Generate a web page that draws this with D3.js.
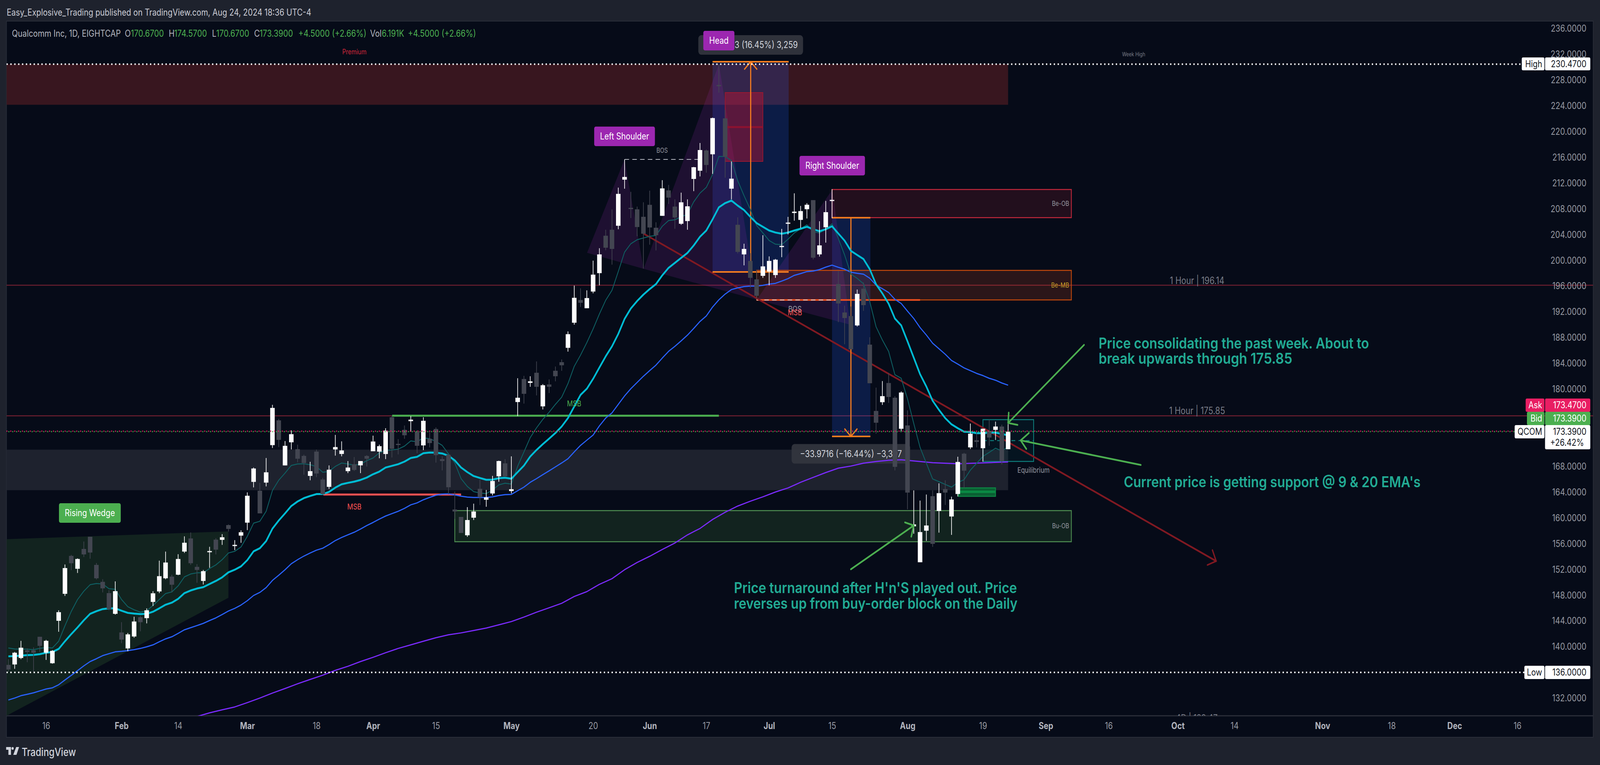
<!DOCTYPE html>
<html><head><meta charset="utf-8">
<script src="https://cdnjs.cloudflare.com/ajax/libs/d3/7.9.0/d3.min.js"></script>
<style>html,body{margin:0;padding:0;background:#1e222d;overflow:hidden;width:100%;height:100%}svg{display:block;width:100vw;height:100vh}text{font-family:Inter,"Noto Sans",sans-serif}</style>
</head><body><div id="chart"></div>
<script>
// ---- candles, bar 1..160 ----
const open=[137.17,137.24,138.24,139.43,139.43,141.54,139.06,137.43,144.02,148.21,154.10,152.10,155.18,157.07,152.70,150.07,148.32,145.10,142.21,139.73,141.58,144.58,144.43,146.95,148.58,150.62,150.88,151.18,154.77,156.81,152.40,150.21,154.77,156.62,156.59,158.88,155.74,157.25,159.26,165.59,164.22,165.48,171.30,175.15,168.15,171.74,170.67,169.63,166.52,170.30,165.96,164.82,170.63,169.93,167.26,168.34,168.16,169.62,170.35,170.29,169.92,175.63,171.50,173.68,175.02,173.38,171.26,172.29,173.81,169.13,169.80,161.30,160.15,157.30,160.03,164.52,162.82,163.79,166.46,168.47,164.16,177.99,181.57,180.97,182.54,177.32,180.72,182.85,184.18,186.41,190.31,193.84,192.56,195.15,198.01,203.82,204.75,205.37,212.53,208.15,207.92,206.76,208.62,205.06,206.91,210.86,208.35,205.68,206.10,212.64,213.92,217.06,216.47,227.23,222.05,211.13,205.52,200.92,199.91,197.05,197.59,198.25,197.71,202.20,205.69,207.35,206.28,207.94,209.35,200.92,205.13,209.35,196.32,191.90,191.34,189.89,195.60,186.91,176.61,177.97,180.95,178.66,173.84,174.36,158.69,153.11,158.01,163.37,161.07,164.48,160.22,163.71,169.97,170.95,172.06,170.82,173.46,173.67,174.19,170.67];
const high=[138.06,139.17,140.91,139.73,139.91,141.54,141.06,139.47,145.65,152.77,154.25,153.70,156.33,157.07,152.99,150.47,148.77,150.14,143.80,142.13,144.65,144.77,145.95,148.62,153.36,154.77,151.18,154.36,157.14,157.74,152.81,151.92,155.51,156.85,157.48,158.99,156.55,158.07,163.96,167.82,165.44,169.30,177.56,175.38,171.93,173.60,171.37,169.82,168.71,170.60,166.22,168.15,172.89,171.89,168.82,169.45,168.83,169.74,172.77,171.38,173.93,175.93,172.23,174.35,175.81,173.62,175.63,173.44,174.05,169.56,169.80,164.10,160.15,161.67,162.21,165.92,164.34,166.52,168.89,169.13,169.56,181.69,182.06,182.00,184.30,180.78,181.51,183.51,184.61,188.96,196.08,195.65,195.34,199.95,201.88,204.75,207.92,211.29,215.66,210.63,208.35,209.01,210.82,205.91,212.45,211.71,209.47,210.51,209.47,214.50,218.22,217.21,222.16,230.47,223.36,215.35,206.68,202.58,201.11,198.44,203.90,200.61,200.22,204.88,206.75,210.41,208.45,208.88,209.35,206.07,209.22,211.05,198.37,192.96,192.83,195.47,196.58,188.06,180.23,181.25,182.53,178.91,179.64,176.70,164.27,162.69,163.63,164.27,165.37,165.84,163.29,169.50,170.10,174.65,173.38,173.85,175.29,174.95,174.48,174.57];
const low=[136.09,136.57,138.06,137.58,136.09,139.17,137.95,137.35,142.32,147.88,151.88,151.44,153.92,153.66,150.44,148.43,145.65,144.99,140.54,139.28,141.39,142.39,143.62,146.32,148.32,150.47,148.43,151.10,154.55,152.70,149.92,149.66,152.25,154.33,155.81,157.88,154.99,156.14,158.11,164.74,160.70,164.89,170.86,171.00,168.15,170.63,168.63,166.70,165.85,166.33,163.59,164.48,169.67,169.56,166.96,167.30,166.95,167.98,170.35,169.25,169.13,169.38,169.86,172.29,173.38,170.04,170.53,170.95,168.59,167.37,163.67,159.85,157.66,157.06,159.67,162.00,161.73,163.49,165.61,166.34,163.79,175.81,177.75,180.36,179.02,176.84,179.39,181.21,182.85,185.82,190.00,192.75,192.56,194.88,196.12,201.57,199.33,204.83,211.13,206.57,203.74,198.71,202.43,201.54,206.91,208.77,204.90,205.52,204.75,210.75,213.03,213.61,213.42,226.03,212.84,209.47,201.07,199.22,195.73,193.99,197.28,196.12,197.28,200.49,204.03,206.16,205.01,206.50,200.15,200.58,202.75,206.54,190.40,186.96,186.19,189.72,192.15,180.91,173.08,177.55,177.85,167.37,173.42,161.33,157.54,153.11,156.43,155.50,157.71,162.01,157.37,163.33,164.65,170.69,170.95,168.74,171.20,172.10,168.31,170.67];
const close=[136.46,139.06,139.84,139.17,139.06,140.13,140.91,139.35,145.36,152.21,152.96,153.62,154.33,154.62,150.62,149.06,145.84,148.62,141.10,141.91,143.91,143.80,145.65,148.29,150.95,153.07,149.62,153.62,156.14,152.96,151.92,151.73,154.85,155.07,156.99,158.29,155.81,157.77,163.44,167.67,160.70,167.08,177.08,172.12,171.19,173.00,169.19,168.52,167.26,166.89,163.70,167.48,171.00,170.48,167.82,167.45,168.83,169.19,171.86,171.14,173.56,170.73,171.42,172.83,175.26,171.20,175.08,171.62,169.74,168.83,164.76,160.99,157.66,159.67,160.99,163.21,163.19,165.73,168.83,166.46,164.46,178.66,179.27,181.21,180.36,180.60,180.36,182.00,183.70,188.53,194.18,193.41,194.14,197.78,200.92,201.96,201.77,210.32,212.95,208.08,205.17,204.13,205.10,203.90,211.17,209.74,206.65,209.01,208.39,214.46,217.13,214.81,222.09,227.16,216.09,212.68,201.31,201.77,197.28,194.49,199.06,199.91,200.10,202.24,205.86,207.56,207.65,208.63,200.41,202.32,207.48,209.39,193.30,191.04,186.19,194.79,193.04,180.91,174.78,178.91,178.78,167.93,179.47,163.93,158.99,157.80,158.82,155.97,163.84,163.93,162.86,168.69,167.33,173.08,171.80,173.85,172.48,174.19,168.82,173.39];
// ---- moving averages, one reading per bar ----
const ema9=[139.80,139.65,139.61,139.61,139.54,139.73,139.87,139.80,140.84,143.25,145.47,147.32,148.62,149.62,149.81,149.73,149.00,148.92,147.32,146.21,145.73,145.36,145.58,146.40,147.32,148.25,148.51,149.44,150.84,151.29,151.47,151.47,152.14,152.70,153.51,154.55,154.81,155.48,157.14,159.18,159.48,161.03,164.26,165.85,166.96,168.15,168.37,168.41,168.26,167.96,167.08,167.22,168.00,168.52,168.37,168.19,168.34,168.89,169.30,170.10,170.48,170.56,170.67,171.15,171.96,171.82,172.43,172.31,171.86,171.26,169.94,168.53,166.10,164.88,164.08,163.87,163.77,164.32,165.13,165.39,165.25,168.02,170.25,172.47,173.99,175.30,176.41,177.63,178.74,180.85,183.54,185.28,187.22,189.35,191.67,193.80,195.35,198.25,201.27,202.58,203.20,203.47,203.74,203.86,205.29,206.18,206.30,206.76,207.15,209.08,210.44,211.33,213.34,216.13,216.13,215.47,212.37,210.05,207.92,205.41,204.25,203.08,202.50,202.43,203.28,204.25,204.90,205.52,204.44,204.25,204.83,205.68,203.40,200.83,197.85,197.20,196.36,193.60,189.68,187.64,185.85,182.23,181.68,178.49,174.65,170.95,168.48,166.05,165.63,165.20,164.78,165.50,165.93,167.42,168.48,169.55,170.18,170.82,170.40,171.03];
const ema20=[138.50,138.54,138.61,138.69,138.72,138.84,139.06,139.17,139.65,140.84,141.95,142.99,144.10,145.10,145.51,145.84,145.95,145.95,145.58,145.25,145.14,145.06,145.10,145.43,145.95,146.51,146.84,147.43,148.32,148.73,149.03,149.25,149.73,150.21,150.77,151.55,151.95,152.47,153.44,154.81,155.29,156.40,158.33,159.59,160.70,161.85,162.55,163.07,163.41,163.70,163.70,164.04,164.70,165.22,165.44,165.63,165.89,166.26,166.78,167.19,167.82,168.08,168.34,168.74,169.30,169.48,170.04,170.15,170.14,170.00,169.64,168.93,167.82,167.11,166.50,166.20,165.92,165.94,166.16,166.24,166.08,167.11,168.12,169.54,170.55,171.46,172.31,173.18,174.19,175.50,177.30,179.10,180.06,181.60,183.35,185.09,186.64,188.57,190.90,192.52,193.68,194.68,195.54,196.31,197.67,198.83,199.60,200.37,201.15,202.31,203.67,204.63,206.37,208.23,208.89,209.28,208.50,207.81,206.76,205.79,205.21,204.63,204.32,204.13,204.32,204.63,204.90,205.21,204.83,204.52,204.83,205.29,204.16,203.05,201.47,200.83,200.20,198.62,196.28,194.87,193.26,190.96,189.89,187.42,184.87,182.32,180.40,178.19,176.78,175.50,174.53,173.93,173.38,173.33,173.16,173.16,173.25,173.25,173.04,172.82];
const ema50=[131.72,132.02,132.39,132.61,132.83,133.13,133.43,133.61,134.09,134.83,135.54,136.28,137.02,137.69,138.13,138.61,138.91,139.20,139.28,139.39,139.54,139.73,139.98,140.28,140.76,141.21,141.54,142.06,142.62,142.95,143.28,143.62,144.06,144.47,144.99,145.54,145.95,146.47,147.14,147.95,148.43,149.18,150.29,151.10,151.95,152.88,153.51,154.07,154.55,154.99,155.29,155.85,156.48,156.96,157.37,157.77,158.26,158.81,159.29,159.81,160.29,160.66,161.03,161.48,162.03,162.33,162.81,163.18,163.52,163.70,163.73,163.57,163.37,163.23,163.17,163.17,163.17,163.27,163.47,163.61,163.65,164.22,164.78,165.53,166.10,166.71,167.31,167.92,168.53,169.19,170.25,171.26,172.07,172.87,174.29,175.50,176.31,177.63,178.94,180.06,181.03,182.00,182.88,183.73,184.82,185.86,186.64,187.49,188.38,189.42,190.51,191.36,192.75,193.87,194.76,195.46,195.73,195.92,196.00,196.00,196.12,196.31,196.43,196.78,197.16,197.67,197.94,198.25,198.33,198.56,198.94,199.25,198.92,198.62,198.15,197.98,197.85,197.22,196.15,195.60,195.00,193.94,193.30,192.11,190.96,189.55,188.40,187.13,186.28,185.42,184.45,183.89,183.30,182.87,182.44,182.10,181.68,181.38,180.95,180.61];
const ema200Bars=[31,33,35,37,39,41,43,45,47,49,51,53,55,57,59,61,63,65,67,69,71,73,75,77,79,81,83,85,87,89,91,93,95,97,99,101,103,105,107,109,111,113,115,117,119,121,123,125,127,129,131,133,135,137,139,141,143,148,152,156,160];
const ema200=[129.16,129.72,130.20,130.64,131.31,132.02,132.80,133.50,134.24,134.91,135.57,136.32,136.95,137.69,138.35,139.06,139.73,140.28,140.84,141.39,141.85,142.14,142.51,142.89,143.39,143.90,144.60,145.36,146.04,146.74,147.80,148.55,149.68,150.56,151.95,153.08,154.04,155.09,156.10,157.36,158.36,159.75,160.88,161.84,162.59,163.27,164.02,164.65,165.53,166.29,167.04,167.72,168.05,168.50,168.75,168.95,169.03,168.57,168.40,168.55,168.70];
// ---- axes ----
const priceTicks=[236,232,228,224,220,216,212,208,204,200,196,192,188,184,180,176,172,168,164,160,156,152,148,144,140,136,132];
const timeLabels=["16","Feb","14","Mar","18","Apr","15","May","20","Jun","17","Jul","15","Aug","19","Sep","16","Oct","14","Nov","18","Dec","16"];
const timeBars=[7,19,28,39,50,59,69,81,94,103,112,122,132,144,156,166,176,187,196,210,221,231,241];
const monthNames=["Jan","Feb","Mar","Apr","May","Jun","Jul","Aug","Sep","Oct","Nov","Dec"];
// ---- drawings, in [bar, price] ----
const highPrice=230.47, lowPrice=136, askPrice=173.47, bidPrice=173.39, hourLevels=[196.14,175.85];
const premiumZone=[0,160,230.47,224.16], equilibriumZone=[0,160,170.6,164.3];
const wedge=[[0.7,156.69],[36,157.9],[36,147.6],[0.7,129.27]];
const hnsTriangles=[[[93.04,201.17],[99,215.67],[102.03,198.68]],[[102.03,198.68],[114.01,230.47],[120.03,193.89]],[[120.03,193.89],[132.06,211],[134.89,190]]];
const beOB=[132,170.06,211,206.63], beMB=[120,170.06,198.44,193.85], buOB=[72,170.06,161.13,156.3];
const headBox=[115,121,226.05,215.37,220.7];
const miniBand=[152.1,158,164.66,163.35,164.05];
const eqBox=[156,164.06,175.26,168.77,172];
const measureUp=[113,125.1,230.84,198.2,119.06], measureDown=[132,138.1,206.62,172.65,135];
const msbGreen=[62.04,114,175.87], msbRed=[51.1,73,163.63], msbOrange=[120,146,193.85], bosDash=[99,110.7,215.67], bosDash2=[120,132.5,193.85];
const trend=[[102.03,204.14],[193.09,153.29]], trendHead=[[192.5,155],[193.09,153.29],[191.7,152.69]];
const greenArrows=[
  {shaft:[[172.08,186.87],[160,174.74]],head:[[160.1,176.35],[160,174.74],[161.5,174.44]]},
  {shaft:[[181.1,168.22],[162,172.04]],head:[[163.3,173.17],[162,172.04],[162.9,170.71]]},
  {shaft:[[135,152.02],[145,158.82]],head:[[143.6,159.3],[145,158.82],[144.6,157.08]]}];
const badges=[{t:"Rising Wedge",b:13.96,p:160.76,c:"#4caf50"},{t:"Left Shoulder",b:99,p:219.25,c:"#9c27b0"},{t:"Head",b:114,p:234.12,c:"#9c27b0"},{t:"Right Shoulder",b:132.03,p:214.7,c:"#9c27b0"}];
const pills=[{t:"+32.5633 (16.45%) 3,259",b:119.06,p:233.45,w:324},{t:"−33.9716 (−16.44%) −3,397",b:135,p:169.95,w:367}];
const smallLabels=[
 {t:"Premium",b:56.03,p:232.36,c:"#d32638",s:18,a:"middle"},{t:"Week High",b:179.97,p:232,c:"#787b86",s:14,a:"middle"},
 {t:"BOS",b:104.97,p:217.07,c:"#9598a1",s:17,a:"middle"},{t:"BOS",b:126.1,p:192.43,c:"#9598a1",s:20,a:"middle"},{t:"MSB",b:126.1,p:191.89,c:"#ff5252",s:20,a:"middle"},
 {t:"MSB",b:90.98,p:177.75,c:"#4caf50",s:20,a:"middle"},{t:"MSB",b:56.03,p:161.73,c:"#ff5252",s:20,a:"middle"},
 {t:"Be-OB",b:169.7,p:208.83,c:"#9598a1",s:17,a:"end"},{t:"Be-MB",b:169.7,p:196.15,c:"#c9a227",s:17,a:"end"},{t:"Bu-OB",b:169.7,p:158.75,c:"#9598a1",s:17,a:"end"},
 {t:"Equilibrium",b:164.04,p:167.43,c:"#9598a1",s:19,a:"middle"},
 {t:"1 Hour | 196.14",b:190.06,p:196.86,c:"#787b86",s:25,a:"middle"},{t:"1 Hour | 175.85",b:190.06,p:176.62,c:"#787b86",s:25,a:"middle"},{t:"4D | 129.47",b:190,p:128.9,c:"#787b86",s:24,a:"middle"}];
const noteTexts=["Price consolidating the past week. About to","break upwards through 175.85","Current price is getting support @ 9 & 20 EMA's","Price turnaround after H'n'S played out. Price","reverses up from buy-order block on the Daily"];
const noteBars=[174.4,174.4,178.4,116.4,116.4];
const notePrices=[187.09,184.73,165.55,149.13,146.68];
const noteEndBars=[217.4,205.2,225.6,161.4,161.5];
const titleText="Easy_Explosive_Trading published on TradingView.com, Aug 24, 2024 18:36 UTC-4";
const legendParts=[["Qualcomm Inc, 1D, EIGHTCAP",37,0],["O",386,0],["170.6700",405,1],["H",522,0],["174.5700",539,1],["L",656,0],["170.6700",669,1],["C",786,0],["173.3900",803,1],["+4.5000 (+2.66%)",923,1],["Vol",1145,0],["6.191K",1181,1],["+4.5000 (+2.66%)",1262,1]];

// ---- layout ----
const W=4950,H=1958,pane={l:20,r:4929,t:54,b:1832,axisB:1887};
const x=d3.scaleLinear().domain([1,160]).range([25.9,3118.8]);
const y=d3.scaleLinear().domain([236,132]).range([73,1787]);
const pt=d=>[x(d[0]),y(d[1])];
const svg=d3.select("#chart").append("svg").attr("viewBox",`0 0 ${W} ${H}`).attr("preserveAspectRatio","none");
const ln=d3.line();
svg.append("rect").attr("width",W).attr("height",H).attr("fill","#1e222d");
svg.append("rect").attr("x",pane.l).attr("y",pane.t).attr("width",pane.r-pane.l).attr("height",pane.axisB-pane.t).attr("fill","#060b18").attr("stroke","#2a2e39").attr("stroke-width",2);
svg.append("line").attr("x1",pane.l).attr("x2",pane.r).attr("y1",pane.b).attr("y2",pane.b).attr("stroke","#2a2e39").attr("stroke-width",3);
svg.append("defs").append("clipPath").attr("id","cp").append("rect").attr("x",pane.l).attr("y",pane.t).attr("width",pane.r-pane.l).attr("height",pane.b-pane.t);
const g=svg.append("g").attr("clip-path","url(#cp)");
function box(par,b,fill,stroke,sw){return par.append("rect").attr("x",x(b[0])).attr("width",x(b[1])-x(b[0])).attr("y",y(b[2])).attr("height",y(b[3])-y(b[2])).attr("fill",fill).attr("stroke",stroke||"none").attr("stroke-width",sw||0);}
function hl(par,x1,x2,p,c,w,dash){const l=par.append("line").attr("x1",x1).attr("x2",x2).attr("y1",y(p)).attr("y2",y(p)).attr("stroke",c).attr("stroke-width",w);if(dash)l.attr("stroke-dasharray",dash);return l;}
function poly(par,pts,c,w){return par.append("path").attr("d",ln(pts.map(pt))).attr("fill","none").attr("stroke",c).attr("stroke-width",w).attr("stroke-linecap","round").attr("stroke-linejoin","round");}

// zones
g.append("rect").attr("x",pane.l).attr("width",x(premiumZone[1])-pane.l).attr("y",y(premiumZone[2])).attr("height",y(premiumZone[3])-y(premiumZone[2])).attr("fill","#38161f");
g.append("rect").attr("x",pane.l).attr("width",x(equilibriumZone[1])-pane.l).attr("y",y(equilibriumZone[2])).attr("height",y(equilibriumZone[3])-y(equilibriumZone[2])).attr("fill","#1e222e");
g.append("path").attr("d",ln(wedge.map(pt))+"Z").attr("fill","#12231f");
hourLevels.forEach(p=>hl(g,pane.l,pane.r,p,"#6e1f30",2.5));
box(g,measureUp,"rgba(41,98,255,0.2)");
box(g,measureDown,"rgba(41,98,255,0.2)");
hnsTriangles.forEach(t=>g.append("path").attr("d",ln(t.map(pt))+"Z").attr("fill","rgba(156,39,176,0.17)"));
box(g,headBox,"rgba(200,20,50,0.42)","#9c1830",2);
hl(g,x(headBox[0]),x(headBox[1]),headBox[4],"#8c1230",5);
box(g,beOB,"rgba(195,40,60,0.15)","#c3283b",2.5);
box(g,beMB,"rgba(255,87,34,0.15)","#c44a0c",2.5);
box(g,buOB,"#12231f","#4f8f52",2.5);
box(g,miniBand,"#0a5f33","#0d8a45",2.5);
hl(g,x(miniBand[0]),x(miniBand[1]),miniBand[4],"#0a8a44",6);
box(g,eqBox,"rgba(0,128,128,0.08)","#0e7c7b",2.5);
hl(g,x(eqBox[0]),x(eqBox[1]),eqBox[4],"#0e7c7b",2.5,"12 10");
// level lines
hl(g,x(msbGreen[0]),x(msbGreen[1]),msbGreen[2],"#4caf50",5);
hl(g,x(msbRed[0]),x(msbRed[1]),msbRed[2],"#ff5252",5);
hl(g,x(msbOrange[0]),x(msbOrange[1]),msbOrange[2],"#f4511e",4);
hl(g,x(bosDash2[0]),x(bosDash2[1]),bosDash2[2],"#d1d4dc",2,"14 10");
hl(g,x(bosDash[0]),x(bosDash[1]),bosDash[2],"#b2b5be",2,"14 10");
// trend
poly(g,trend,"#801922",4.5);poly(g,trendHead,"#801922",4);
// measures
[measureUp,measureDown].forEach((m,i)=>{
  hl(g,x(m[0]),x(m[1]),m[2],"#f57c1f",4);hl(g,x(m[0]),x(m[1]),m[3],"#f57c1f",4);
  g.append("line").attr("x1",x(m[4])).attr("x2",x(m[4])).attr("y1",y(m[2])).attr("y2",y(m[3])).attr("stroke","#f57c1f").attr("stroke-width",3.5);
  const tip=i?y(m[3]):y(m[2]),d=i?-20:20;
  g.append("path").attr("d",ln([[x(m[4])-20,tip+d],[x(m[4]),tip],[x(m[4])+20,tip+d]])).attr("fill","none").attr("stroke","#f57c1f").attr("stroke-width",3.5);
});
pills.forEach(d=>{
  g.append("rect").attr("x",x(d.b)-d.w/2).attr("y",y(d.p)-25).attr("width",d.w).attr("height",50).attr("rx",9).attr("fill","#33363f").attr("fill-opacity",.92);
  g.append("text").attr("x",x(d.b)).attr("y",y(d.p)).attr("dy",".35em").attr("text-anchor","middle").attr("font-size",24).attr("fill","#d1d4dc").text(d.t);
});
// moving averages
const barsAll=d3.range(1,161);
const maLine=(xs,ys,c,w)=>g.append("path").attr("d",ln(ys.map((v,i)=>[x(xs[i]),y(v)]))).attr("fill","none").attr("stroke",c).attr("stroke-width",w).attr("stroke-linejoin","round");
maLine(ema200Bars,ema200,"#7b2bff",3);
maLine(barsAll,ema50,"#2962ff",3);
maLine(barsAll,ema9,"#0f5f62",2.5);
maLine(barsAll,ema20,"#00bcd4",5);
// candles
const dark="#434651",bw=14;
const cg=g.append("g").selectAll("g").data(barsAll).join("g");
cg.append("line").attr("x1",b=>x(b)).attr("x2",b=>x(b)).attr("y1",b=>y(high[b-1])).attr("y2",b=>y(low[b-1])).attr("stroke-width",2).attr("stroke",b=>close[b-1]>=open[b-1]?"#fff":dark);
cg.append("rect").attr("x",b=>x(b)-bw/2).attr("width",bw).attr("y",b=>y(Math.max(open[b-1],close[b-1]))).attr("height",b=>Math.max(3,Math.abs(y(open[b-1])-y(close[b-1])))).attr("fill",b=>close[b-1]>=open[b-1]?"#fff":dark);
// dotted price lines
hl(g,pane.l,4708,highPrice,"#fff",4,"4 8");
hl(g,pane.l,4716,lowPrice,"#fff",4,"4 8");
hl(g,pane.l,4686,bidPrice,"#4caf50",3,"3 9").attr("stroke-dashoffset",6);
hl(g,pane.l,4686,askPrice,"#e91e63",3,"3 9");
// arrows
greenArrows.forEach(a=>{poly(g,a.shaft,"#4caf50",4.5);poly(g,a.head,"#4caf50",4.5);});
// texts
g.selectAll("text.s").data(smallLabels).join("text").attr("class","s").attr("x",d=>x(d.b)).attr("y",d=>y(d.p)).attr("dy",".35em").attr("text-anchor",d=>d.a).attr("font-size",d=>d.s).attr("fill",d=>d.c).text(d=>d.t);
g.selectAll("text.n").data(noteTexts).join("text").attr("class","n").attr("x",(d,i)=>x(noteBars[i])).attr("y",(d,i)=>y(notePrices[i])).attr("dy",".35em").attr("font-size",38).attr("font-weight",600).attr("fill","#22ab94").attr("textLength",(d,i)=>x(noteEndBars[i])-x(noteBars[i])).attr("lengthAdjust","spacingAndGlyphs").text(d=>d);
badges.forEach(d=>{
  const t=g.append("text").attr("x",x(d.b)).attr("y",y(d.p)).attr("dy",".35em").attr("text-anchor","middle").attr("font-size",24).attr("fill","#fff").text(d.t);
  const w=t.node().getComputedTextLength()+36;
  g.insert("rect",()=>t.node()).attr("x",x(d.b)-w/2).attr("y",y(d.p)-25).attr("width",w).attr("height",50).attr("rx",5).attr("fill",d.c);
});
// axes
const axR=d3.axisRight(y).tickValues(priceTicks).tickFormat(d3.format(".4f")).tickSize(0).tickPadding(0);
const gy=svg.append("g").attr("transform","translate(4908,0)").call(axR);
gy.select(".domain").remove();
gy.selectAll("text").attr("text-anchor","end").attr("font-size",24).attr("fill","#9598a1");
const axB=d3.axisBottom(x).tickValues(timeBars).tickFormat((d,i)=>timeLabels[i]).tickSize(0);
const gx=svg.append("g").attr("transform",`translate(0,${pane.b+14})`).call(axB);
gx.select(".domain").remove();
gx.selectAll("text").attr("font-size",24).attr("dy","0.71em").attr("fill",(d,i)=>monthNames.includes(timeLabels[i])?"#b2b5be":"#9598a1").attr("font-weight",(d,i)=>monthNames.includes(timeLabels[i])?700:400);
// price tags
function tag(x1,x2,yT,yB,fill,txt,color,tx){
  svg.append("rect").attr("x",x1).attr("y",yT).attr("width",x2-x1).attr("height",yB-yT).attr("rx",4).attr("fill",fill);
  if(txt)svg.append("text").attr("x",tx).attr("y",(yT+yB)/2).attr("dy",".35em").attr("text-anchor","end").attr("font-size",24).attr("fill",color).text(txt);
}
tag(4708,4778,147,180,"#fff","High","#131722",4771);
tag(4780,4920,147,180,"#fff",d3.format(".4f")(highPrice),"#131722",4908);
tag(4716,4778,1704,1738,"#fff","Low","#131722",4771);
tag(4780,4920,1704,1738,"#fff",d3.format(".4f")(lowPrice),"#131722",4908);
tag(4720,4778,1020,1054,"#e91e63","Ask","#fff",4771);
tag(4780,4920,1020,1054,"#e91e63",d3.format(".4f")(askPrice),"#fff",4908);
tag(4724,4778,1054,1088,"#4caf50","Bid","#fff",4771);
tag(4780,4920,1054,1088,"#4caf50",d3.format(".4f")(bidPrice),"#fff",4908);
tag(4686,4778,1088,1122,"#fff","QCOM","#131722",4771);
tag(4780,4920,1088,1150,"#fff","","#131722",4908);
svg.append("text").attr("x",4908).attr("y",1105).attr("dy",".35em").attr("text-anchor","end").attr("font-size",24).attr("fill","#131722").text(d3.format(".4f")(close[159]));
svg.append("text").attr("x",4796).attr("y",1133).attr("dy",".35em").attr("font-size",24).attr("fill","#131722").text("+26.42%");
// header
svg.append("text").attr("x",21).attr("y",32).attr("dy",".35em").attr("font-size",24).attr("fill","#c9cbd4").text(titleText);
svg.selectAll("text.lg").data(legendParts).join("text").attr("class","lg").attr("x",d=>d[1]).attr("y",86).attr("dy",".35em").attr("font-size",24).attr("fill",d=>d[2]?"#4caf50":"#b2b5be").text(d=>d[0]);
// footer logo
const logo=svg.append("g").attr("transform","translate(19,1912)").attr("fill","#d1d4dc");
logo.append("path").attr("d","M0 0H15V20H7V7H0Z");
logo.append("circle").attr("cx",20).attr("cy",3.5).attr("r",3.5);
logo.append("path").attr("d","M31 0H40L32 20H22Z");
svg.append("text").attr("x",67).attr("y",1925).attr("dy",".35em").attr("font-size",28).attr("font-weight",500).attr("fill","#d1d4dc").text("TradingView");
</script></body></html>
